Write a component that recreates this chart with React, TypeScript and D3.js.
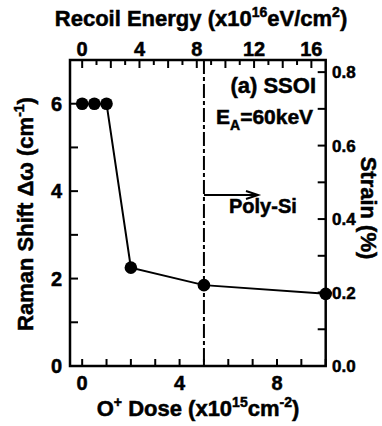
import React from "react";
import * as d3 from "d3";

// Raman shift vs O+ implantation dose (SSOI, E_A = 60 keV)
const doses = [0, 0.5, 1, 2, 5, 10];
const ramanShift = [6.0, 6.0, 6.0, 2.25, 1.85, 1.65];

const doseTicks = [0, 4, 8];
const shiftTicks = [0, 2, 4, 6];
const strainTicks = [0, 0.2, 0.4, 0.6, 0.8];
const recoilTicks = [0, 4, 8, 12, 16];
const polySiDose = 5;

const W = 382;
const H = 426;
const frame = { left: 70, right: 325.7, top: 60, bottom: 366 };
const FONT = "'Liberation Sans', Arial, Helvetica, sans-serif";

export default function App() {
  const x = d3.scaleLinear().domain([-0.5, 10]).range([frame.left, frame.right]);
  const y = d3.scaleLinear().domain([0, 7]).range([frame.bottom, frame.top]);
  const yStrain = d3.scaleLinear().domain([0, 0.833]).range([frame.bottom, frame.top]);
  const xRecoil = d3.scaleLinear().domain([-0.85, 17]).range([frame.left, frame.right]);

  const pts: [number, number][] = doses.map((d, i) => [d, ramanShift[i]]);
  const linePath = d3
    .line<[number, number]>()
    .x((d) => x(d[0]))
    .y((d) => y(d[1]))(pts) as string;

  const leftMinor = d3.range(0, 7, 1);
  const bottomMinor = d3.range(0, 10.001, 1);
  const rightMinor = d3.range(0, 0.801, 0.1);
  const topMinor = d3.range(0, 17, 1);

  const xp = x(polySiDose);
  const arrowY = 195;
  const arrowEnd = 258;

  return (
    <svg
      width={W}
      height={H}
      style={{ position: "absolute", left: 0, top: 0, background: "#fff" }}
      fontFamily={FONT}
      fontWeight="bold"
    >
      {/* inward ticks */}
      <g stroke="#000" strokeWidth={2}>
        {leftMinor.map((v) => (
          <line key={"l" + v} x1={frame.left} x2={frame.left + 8} y1={y(v)} y2={y(v)} />
        ))}
        {bottomMinor.map((v) => (
          <line key={"b" + v} x1={x(v)} x2={x(v)} y1={frame.bottom} y2={frame.bottom - 7} />
        ))}
        {rightMinor.map((v) => (
          <line key={"r" + v} x1={frame.right} x2={frame.right - 8} y1={yStrain(v)} y2={yStrain(v)} />
        ))}
        {topMinor.map((v) => (
          <line
            key={"t" + v}
            x1={xRecoil(v)}
            x2={xRecoil(v)}
            y1={frame.top}
            y2={frame.top + (v % 2 === 0 ? 8 : 5)}
          />
        ))}
      </g>

      {/* Poly-Si threshold */}
      <line
        x1={xp}
        x2={xp}
        y1={frame.top}
        y2={frame.bottom}
        stroke="#000"
        strokeWidth={2}
        strokeDasharray="14,3,4,3"
      />
      <g stroke="#000" strokeWidth={2} fill="none">
        <line x1={xp} x2={arrowEnd} y1={arrowY} y2={arrowY} />
        <polyline points={`${arrowEnd - 12},${arrowY - 4} ${arrowEnd},${arrowY} ${arrowEnd - 12},${arrowY + 4}`} />
      </g>

      {/* frame */}
      <rect
        x={frame.left}
        y={frame.top}
        width={frame.right - frame.left}
        height={frame.bottom - frame.top}
        fill="none"
        stroke="#000"
        strokeWidth={2.5}
      />

      {/* data */}
      <path d={linePath} fill="none" stroke="#000" strokeWidth={2} />
      {pts.map((p, i) => (
        <circle key={i} cx={x(p[0])} cy={y(p[1])} r={6.3} fill="#000" />
      ))}

      <g stroke="#000" strokeWidth={0.5}>
        {/* tick labels */}
        <g fontSize={20}>
          {shiftTicks.map((v) => (
            <text key={"ls" + v} x={62} y={y(v) + 7} textAnchor="end">
              {v}
            </text>
          ))}
          {doseTicks.map((v) => (
            <text key={"bd" + v} x={x(v)} y={390} textAnchor="middle">
              {v}
            </text>
          ))}
          {recoilTicks.map((v) => (
            <text key={"tr" + v} x={xRecoil(v)} y={56} textAnchor="middle">
              {v}
            </text>
          ))}
        </g>
        <g fontSize={17}>
          {strainTicks.map((v) => (
            <text key={"rs" + v} x={332} y={yStrain(v) + 6} textAnchor="start">
              {v.toFixed(1)}
            </text>
          ))}
        </g>

        {/* annotations */}
        <g fontSize={22}>
          <text x={316} y={93} textAnchor="end">(a) SSOI</text>
          <text x={216} y={124} fontSize={21}>
            E<tspan fontSize={14} dy={6}>A</tspan>
            <tspan dy={-6}>=60keV</tspan>
          </text>
        </g>
        <text x={229} y={213} fontSize={20}>Poly-Si</text>

        {/* axis titles */}
        <g fontSize={22}>
          <text x={198} y={416} textAnchor="middle">
            O<tspan fontSize={14} dy={-9}>+</tspan>
            <tspan dy={9}> Dose (x10</tspan>
            <tspan fontSize={14} dy={-9}>15</tspan>
            <tspan dy={9}>cm</tspan>
            <tspan fontSize={14} dy={-9}>-2</tspan>
            <tspan dy={9}>)</tspan>
          </text>
          <text x={201} y={26} textAnchor="middle">
            Recoil Energy (x10<tspan fontSize={14} dy={-9}>16</tspan>
            <tspan dy={9}>eV/cm</tspan>
            <tspan fontSize={14} dy={-9}>2</tspan>
            <tspan dy={9}>)</tspan>
          </text>
          <text transform="translate(33,214) rotate(-90)" textAnchor="middle">
            Raman Shift Δω (cm<tspan fontSize={14} dy={-9}>-1</tspan>
            <tspan dy={9}>)</tspan>
          </text>
          <text transform="translate(361,208) rotate(90)" textAnchor="middle">
            Strain (%)
          </text>
        </g>
      </g>
    </svg>
  );
}
